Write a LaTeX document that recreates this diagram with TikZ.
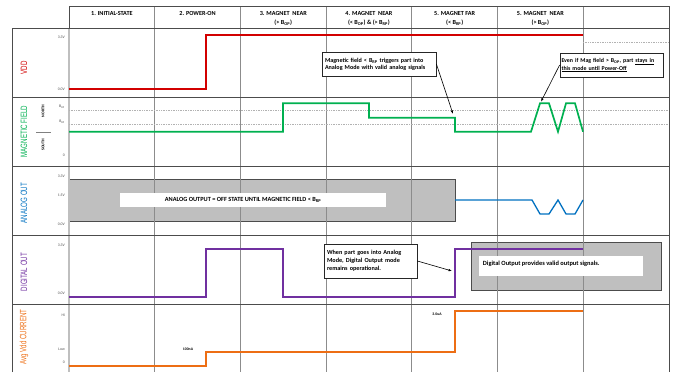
\documentclass[tikz,border=0pt]{standalone}
\usepackage{fontspec}
\setmainfont{Carlito}
\newfontfamily\rowfont{Liberation Sans}
\usetikzlibrary{arrows.meta,shadows}
\definecolor{vddred}{RGB}{210,0,0}
\definecolor{fieldgreen}{RGB}{0,176,80}
\definecolor{anablue}{RGB}{0,112,192}
\definecolor{digpurple}{RGB}{112,48,160}
\definecolor{curorange}{RGB}{237,110,20}
\definecolor{boxgrey}{RGB}{191,191,191}
\begin{document}
\begin{tikzpicture}[x=1pt,y=-1pt,every node/.style={inner sep=0pt},
  head/.style={font=\bfseries\fontsize{6.2}{8.5}\selectfont,align=center,anchor=north},
  tick/.style={font=\fontsize{3.8}{4}\selectfont,text=black!70,anchor=east},
  rowlabel/.style={rotate=90,font=\rowfont\fontsize{9.2}{10}\selectfont},
  note/.style={draw=black!85,fill=white,line width=0.8pt,align=left,inner xsep=3pt,
    font=\bfseries\fontsize{6.1}{7}\selectfont,
    drop shadow={shadow xshift=0.7pt,shadow yshift=-0.7pt,fill=black!55,opacity=1}},
  grid/.style={black!45,line width=0.7pt},
  sep/.style={black!70,line width=0.8pt},
  level/.style={black!30,densely dotted,line width=0.7pt},
  trace/.style={line width=1.7pt,line join=miter},
  pointer/.style={-{Latex[length=3.5pt,width=2.5pt]},line width=0.6pt}]
  \useasboundingbox (0,0) rectangle (676,372);
  % grey boxes go under the grid
  \draw[black!70,fill=boxgrey,line width=0.8pt] (69,179.3) rectangle (455,221.7);
  \draw[black!70,fill=boxgrey,line width=0.8pt] (471.7,242) rectangle (661,290);
  % frame and grid
  \foreach \x in {154.7,240.4,326.1,411.8,497.5,583.2}
    \draw[grid] (\x,6) -- (\x,372);
  \draw[black!25,line width=2pt] (69,28) -- (69,372);
  \draw[sep] (69,28) -- (69,6) -- (669,6) -- (669,372) (12,372) -- (12,28) -- (669,28);
  \foreach \y in {97,166,235,304}
    \draw[sep] (12,\y) -- (669,\y);
  % column headers
  \foreach \i/\ttl/\hsub in {1/{1. INITIAL-STATE}/{},2/{2. POWER-ON}/{},
      3/{3. MAGNET\ \ NEAR}/{(> B\textsubscript{OP})},
      4/{4. MAGNET\ \ NEAR}/{(< B\textsubscript{OP}) \& (> B\textsubscript{RP})},
      5/{5. MAGNET FAR}/{(< B\textsubscript{RP})},
      6/{5. MAGNET\ \ NEAR}/{(> B\textsubscript{OP})}}
    \node[head] (head\i) at ({69+85.7*(\i-0.5)},11.6) {\ttl\\\hsub};
  % row labels
  \node[rowlabel,text=vddred] (lblvdd) at (24,68) {\scalebox{0.67}[1]{VDD}};
  \node[rowlabel,text=fieldgreen] (lblfield) at (24,131.5) {\scalebox{0.67}[1]{MAGNETIC FIELD}};
  \node[rowlabel,text=anablue] (lblana) at (24,203) {\scalebox{0.67}[1]{ANALOG OUT}};
  \node[rowlabel,text=digpurple] (lbldig) at (24,272) {\scalebox{0.67}[1]{DIGITAL OUT}};
  \node[rowlabel,text=curorange] (lblcur) at (24,337) {\scalebox{0.67}[1]{Avg Vdd CURRENT}};
  % axis ticks
  \node[tick] (vddhi) at (65,37.5) {3.3V};
  \node[tick] (vddlo) at (65,89) {0.0V};
  \node[tick] (bop) at (65,107) {B\textsubscript{OP}};
  \node[tick] (brp) at (65,121.7) {B\textsubscript{RP}};
  \node[tick] (fzero) at (65,155) {0};
  \node[rotate=90,font=\bfseries\fontsize{4}{4}\selectfont] (north) at (43,111) {NORTH};
  \node[rotate=90,font=\bfseries\fontsize{4}{4}\selectfont] (south) at (43,145) {SOUTH};
  \draw[black!50,line width=0.8pt] (36,132) -- (51,132);
  \node[tick] (anahi) at (65,176) {3.3V};
  \node[tick] (anamid) at (65,195.7) {1.5V};
  \node[tick] (analo) at (65,224.3) {0.0V};
  \node[tick] (dighi) at (65,245.7) {3.3V};
  \node[tick] (diglo) at (65,293.3) {0.0V};
  \node[tick] (curhi) at (65,314.7) {Hi};
  \node[tick] (curlow) at (65,349) {Low};
  \node[tick] (curzero) at (65,362.7) {0};
  % box texts
  \node[fill=white,minimum width=266pt,minimum height=14pt] (anaoff) at (253,199.7) {};
  \node[font=\bfseries\fontsize{6.3}{7}\selectfont] (anatext) at (243,200)
    {ANALOG OUTPUT = OFF STATE UNTIL MAGNETIC FIELD < B\textsubscript{RP}};
  \node[fill=white,minimum width=163.7pt,minimum height=20pt] (digon) at (560.8,266) {};
  \node[font=\bfseries\fontsize{6.4}{7}\selectfont,anchor=west] (digtext) at (482.7,264)
    {Digital Output provides valid output signals.};
  \node[font=\bfseries\fontsize{3.8}{4}\selectfont] (lowcur) at (188,349) {100nA};
  \node[font=\bfseries\fontsize{3.8}{4}\selectfont] (hicur) at (437,314) {3.0uA};
  % reference levels
  \draw[level] (69,110.7) -- (669,110.7) (69,124.3) -- (669,124.3);
  \draw[level] (583,42) -- (669,42);
  % traces
  \draw[trace,vddred,line width=2.2pt] (69,89) -- (206,89) -- (206,35) -- (583,35);
  \draw[trace,fieldgreen] (69,131.7) -- (283,131.7) -- (283,103.3) -- (369,103.3) -- (369,117.7)
    -- (455,117.7) -- (455,131.7) -- (531,131.7) -- (540,103.3) -- (549,103.3) -- (558,131.7)
    -- (566,103.3) -- (575,103.3) -- (583,131.7);
  \draw[trace,anablue,line width=1.3pt] (455,200) -- (532,200) -- (540,214) -- (549,214) -- (558,200)
    -- (566,214) -- (575,214) -- (583,200);
  \draw[trace,digpurple,line width=2pt] (69,296.7) -- (206,296.7) -- (206,249) -- (283,249)
    -- (283,296.7) -- (455,296.7) -- (455,249) -- (583,249);
  \draw[trace,curorange] (69,366) -- (206,366) -- (206,352.3) -- (455,352.3) -- (455,311) -- (583,311);
  % notes
  \node[note,text width=108pt,minimum height=24pt] (noteA) at (379,64)
    {Magnetic field < B\textsubscript{RP} triggers part into\\Analog Mode with valid analog signals};
  \node[note,text width=100pt,inner xsep=1.5pt,minimum height=24pt,font=\bfseries\fontsize{5.9}{7}\selectfont] (noteB) at (611.5,65)
    {Even if Mag field > B\textsubscript{OP}, part \underline{stays in}\\\underline{this mode until Power-Off}};
  \node[note,text width=87pt,minimum height=34pt,font=\bfseries\fontsize{6.2}{8}\selectfont] (noteC) at (370.5,261)
    {When part goes into Analog\\Mode, Digital Output mode\\remains operational.};
  \coordinate (tipA) at (453,114);
  \coordinate (tipB) at (541,101.7);
  \coordinate (tipC) at (452,271);
  \draw[pointer] (noteA.east) -- (tipA);
  \draw[pointer] (noteB.west) -- (tipB);
  \draw[pointer] (noteC.east) -- (tipC);
\end{tikzpicture}
\end{document}
